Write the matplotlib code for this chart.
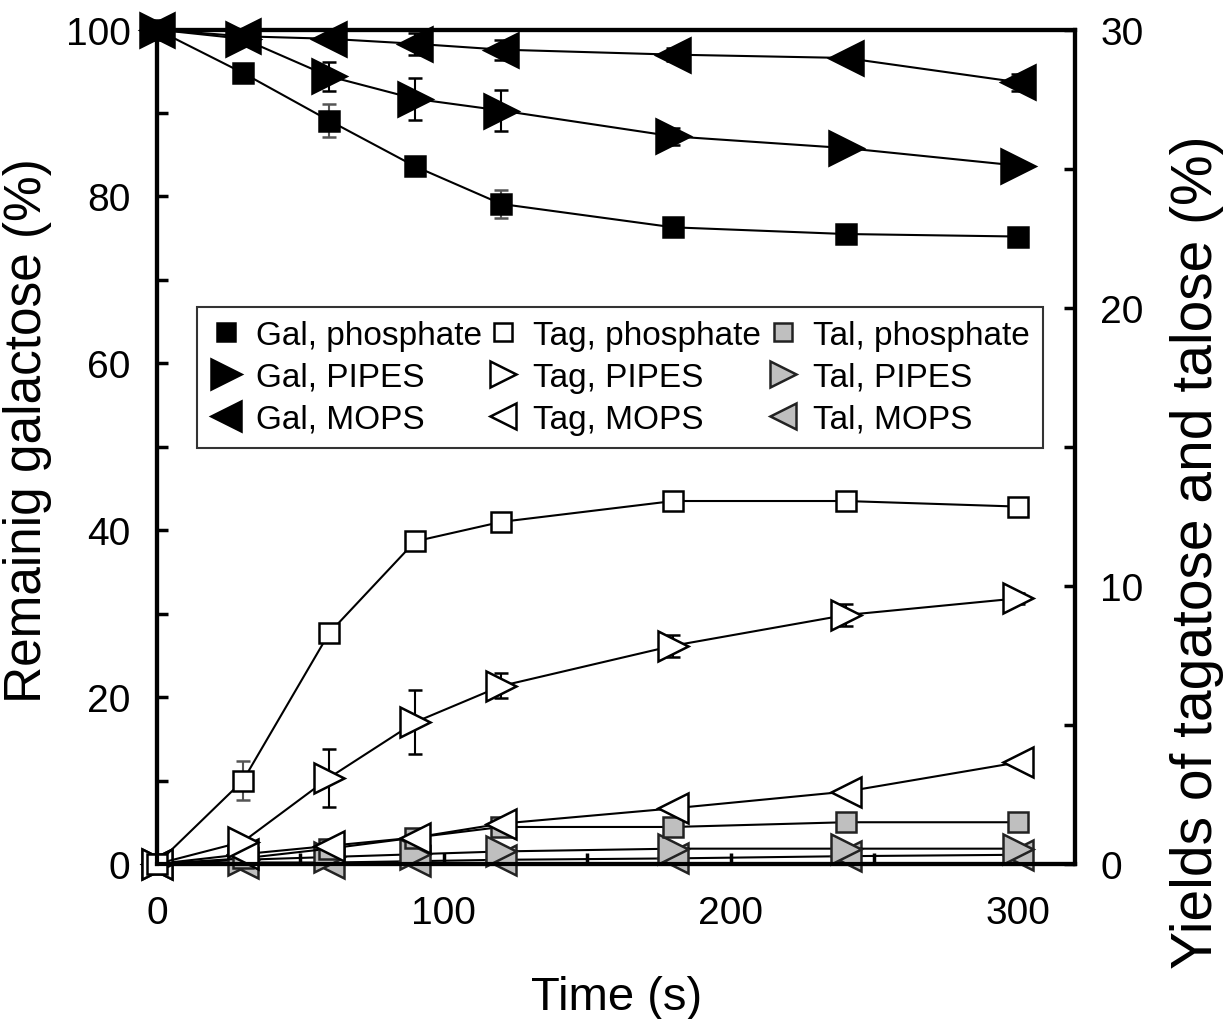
import matplotlib
matplotlib.use('Agg')
import matplotlib.pyplot as plt
from matplotlib.ticker import MultipleLocator

plt.rcParams['font.family'] = ['Liberation Sans', 'DejaVu Sans']

time_s = [0, 30, 60, 90, 120, 180, 240, 300]

# remaining galactose (%), left axis
gal_phosphate = [100, 94.8, 89.1, 83.6, 79.1, 76.3, 75.5, 75.2]
gal_pipes = [100, 98.9, 94.4, 91.7, 90.3, 87.2, 85.8, 83.7]
gal_mops = [100, 99.2, 98.9, 98.3, 97.6, 97.0, 96.6, 93.7]
gal_phosphate_err = [0, 0.4, 2.0, 0.4, 1.7, 0.6, 0.3, 0.3]
gal_pipes_err = [0, 0.5, 1.7, 2.5, 2.5, 1.0, 0.4, 0.4]
gal_mops_err = [0, 0.3, 0.3, 1.3, 1.2, 0.8, 0.3, 1.0]

# yields (%), right axis
tag_phosphate = [0, 3.0, 8.3, 11.6, 12.3, 13.05, 13.05, 12.85]
tag_pipes = [0, 0.8, 3.1, 5.1, 6.4, 7.85, 8.95, 9.55]
tag_mops = [0, 0.35, 0.65, 0.95, 1.45, 2.0, 2.6, 3.65]
tal_phosphate = [0, 0.2, 0.55, 0.95, 1.33, 1.33, 1.5, 1.5]
tal_pipes = [0, 0.15, 0.25, 0.35, 0.45, 0.55, 0.55, 0.55]
tal_mops = [0, 0.05, 0.05, 0.1, 0.15, 0.2, 0.28, 0.33]
tag_phosphate_err = [0, 0.7, 0.2, 0.2, 0.2, 0.3, 0.3, 0.2]
tag_pipes_err = [0, 0.1, 1.05, 1.15, 0.45, 0.4, 0.4, 0.2]

gray = '#bfbfbf'

fig = plt.figure(figsize=(12.26, 10.2), dpi=100)
ax = fig.add_axes([0.128, 0.152, 0.749, 0.818])
ax2 = ax.twinx()

def series(a, y, err, marker, fc, ms, label, ecolor='black', ec='black'):
    a.errorbar(time_s, y, yerr=err, color='black', lw=1.5, marker=marker,
               ms=ms, mfc=fc, mec=ec, mew=1.8, ecolor=ecolor, elinewidth=1.5,
               capsize=5, capthick=1.5, clip_on=False, label=label)

series(ax, gal_phosphate, gal_phosphate_err, 's', 'black', 15, 'Gal, phosphate', ecolor='#555555')
series(ax, gal_pipes, gal_pipes_err, '>', 'black', 24, 'Gal, PIPES')
series(ax, gal_mops, gal_mops_err, '<', 'black', 24, 'Gal, MOPS')

series(ax2, tal_mops, None, '<', gray, 21, 'Tal, MOPS', ec='#222222')
series(ax2, tal_pipes, None, '>', gray, 21, 'Tal, PIPES', ec='#222222')
series(ax2, tal_phosphate, None, 's', gray, 15, 'Tal, phosphate', ec='#222222')
series(ax2, tag_mops, None, '<', 'white', 21, 'Tag, MOPS')
series(ax2, tag_pipes, tag_pipes_err, '>', 'white', 21, 'Tag, PIPES')
series(ax2, tag_phosphate, tag_phosphate_err, 's', 'white', 15, 'Tag, phosphate', ecolor='#555555')

ax.set_xlim(0, 320)
ax.set_ylim(0, 100)
ax2.set_ylim(0, 30)
ax.set_xticks([0, 100, 200, 300])
ax.xaxis.set_minor_locator(MultipleLocator(50))
ax.yaxis.set_major_locator(MultipleLocator(20))
ax.yaxis.set_minor_locator(MultipleLocator(10))
ax2.yaxis.set_major_locator(MultipleLocator(10))
ax2.yaxis.set_minor_locator(MultipleLocator(5))

for a in (ax, ax2):
    for s in a.spines.values():
        s.set_linewidth(3)
    a.tick_params(which='both', direction='in', width=2.5, length=8, labelsize=28)
ax.tick_params(axis='x', which='both', top=False, pad=22)
ax.tick_params(axis='y', pad=19)
ax2.tick_params(axis='y', pad=18)

ax.set_xlabel('Time (s)', fontsize=34, labelpad=32)
ax.set_ylabel('Remainig galactose (%)', fontsize=37)
ax.yaxis.set_label_coords(-0.114, 0.52)
ax2.set_ylabel('Yields of tagatose and talose (%)', fontsize=41)
ax2.yaxis.set_label_coords(1.103, 0.375)

h1, l1 = ax.get_legend_handles_labels()
h2, l2 = ax2.get_legend_handles_labels()
handles = dict(zip(l1 + l2, h1 + h2))
order = ['Gal, phosphate', 'Gal, PIPES', 'Gal, MOPS',
         'Tag, phosphate', 'Tag, PIPES', 'Tag, MOPS',
         'Tal, phosphate', 'Tal, PIPES', 'Tal, MOPS']
leg = ax2.legend([handles[k][0] for k in order], order, ncol=3,
                 loc='upper left', bbox_to_anchor=(0.044, 0.668),
                 fontsize=24, frameon=True, fancybox=False, markerscale=0.9,
                 handlelength=0.9, handletextpad=0.45, columnspacing=0.2,
                 labelspacing=0.33, borderaxespad=0, borderpad=0.4)
leg.get_frame().set_edgecolor('black')
leg.get_frame().set_linewidth(1.5)
for h in leg.legend_handles:
    h.set_linestyle('none')

fig.savefig('out.png', dpi=100)
